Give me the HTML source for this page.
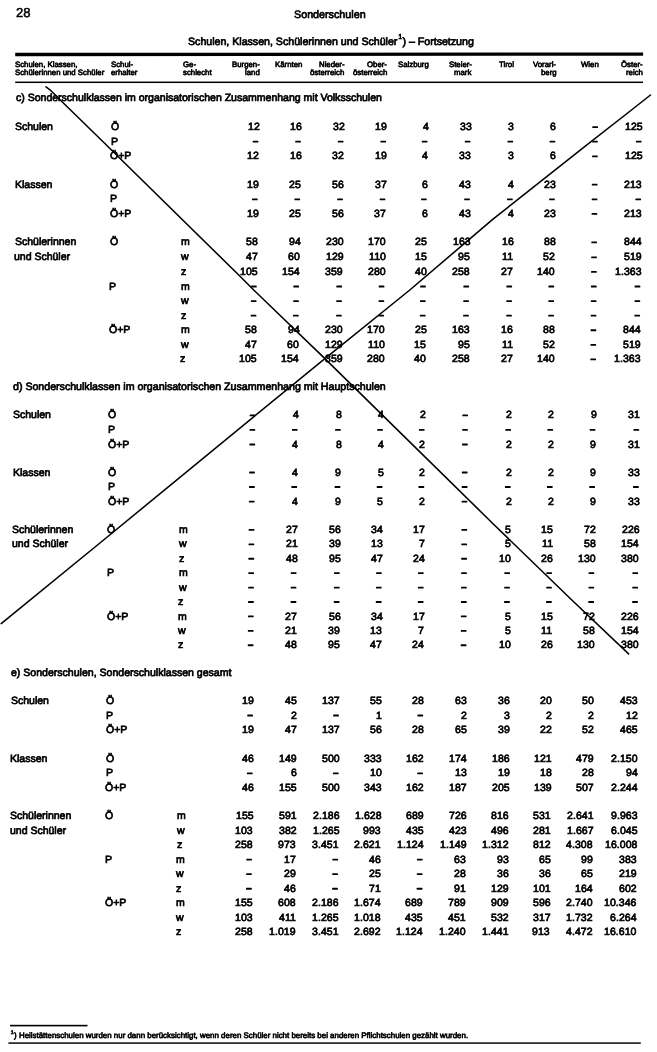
<!DOCTYPE html>
<html><head><meta charset="utf-8"><title>Sonderschulen</title>
<style>
html,body{margin:0;padding:0;background:#fff;}
body{filter:grayscale(1);}
body{width:657px;height:1052px;position:relative;overflow:hidden;font-family:"Liberation Sans",sans-serif;color:#000;}
div{position:absolute;white-space:nowrap;-webkit-text-stroke:0.7px #000;transform:skewX(-0.46deg);}
.h{-webkit-text-stroke:0.62px #000;}
.sup{font-size:66%;position:relative;top:-0.8em;margin:0 0.4px 0 0.8px;}
svg{position:absolute;left:0;top:0;}
</style></head><body>
<div style="left:16.19px;top:4px;font-size:13.0px;line-height:17px;-webkit-text-stroke:0.5px #000;transform-origin:0 13px;">28</div>
<div style="left:294.49px;top:7px;font-size:10.74px;line-height:14px;transform-origin:0 11px;">Sonderschulen</div>
<div style="left:188.06px;top:34px;font-size:10.62px;line-height:14px;transform-origin:0 11px;">Schulen, Klassen, Schülerinnen und Schüler<span class="sup">1</span>) – Fortsetzung</div>
<div class="h" style="left:15.36px;top:59px;font-size:7.8px;line-height:11px;transform-origin:0 8px;">Schulen, Klassen,</div>
<div class="h" style="left:15.30px;top:67px;font-size:7.8px;line-height:11px;transform-origin:0 8px;">Schülerinnen und Schüler</div>
<div class="h" style="left:110.76px;top:59px;font-size:7.8px;line-height:11px;transform-origin:0 8px;">Schul-</div>
<div class="h" style="left:110.70px;top:67px;font-size:7.8px;line-height:11px;transform-origin:0 8px;">erhalter</div>
<div class="h" style="left:182.56px;top:59px;font-size:7.8px;line-height:11px;transform-origin:0 8px;">Ge-</div>
<div class="h" style="left:182.50px;top:67px;font-size:7.8px;line-height:11px;transform-origin:0 8px;">schlecht</div>
<div class="h" style="right:397.38px;top:59px;font-size:7.8px;line-height:11px;transform-origin:100% 8px;">Burgen-</div>
<div class="h" style="right:397.45px;top:67px;font-size:7.8px;line-height:11px;transform-origin:100% 8px;">land</div>
<div class="h" style="right:354.85px;top:59px;font-size:7.8px;line-height:11px;transform-origin:100% 8px;">Kärnten</div>
<div class="h" style="right:312.31px;top:59px;font-size:7.8px;line-height:11px;transform-origin:100% 8px;">Nieder-</div>
<div class="h" style="right:312.38px;top:67px;font-size:7.8px;line-height:11px;transform-origin:100% 8px;">österreich</div>
<div class="h" style="right:269.68px;top:59px;font-size:7.8px;line-height:11px;transform-origin:100% 8px;">Ober-</div>
<div class="h" style="right:269.75px;top:67px;font-size:7.8px;line-height:11px;transform-origin:100% 8px;">österreich</div>
<div class="h" style="right:228.40px;top:59px;font-size:7.8px;line-height:11px;transform-origin:100% 8px;">Salzburg</div>
<div class="h" style="right:185.42px;top:59px;font-size:7.8px;line-height:11px;transform-origin:100% 8px;">Steier-</div>
<div class="h" style="right:185.48px;top:67px;font-size:7.8px;line-height:11px;transform-origin:100% 8px;">mark</div>
<div class="h" style="right:142.78px;top:59px;font-size:7.8px;line-height:11px;transform-origin:100% 8px;">Tirol</div>
<div class="h" style="right:100.66px;top:59px;font-size:7.8px;line-height:11px;transform-origin:100% 8px;">Vorarl-</div>
<div class="h" style="right:100.72px;top:67px;font-size:7.8px;line-height:11px;transform-origin:100% 8px;">berg</div>
<div class="h" style="right:57.97px;top:59px;font-size:7.8px;line-height:11px;transform-origin:100% 8px;">Wien</div>
<div class="h" style="right:14.32px;top:59px;font-size:7.8px;line-height:11px;transform-origin:100% 8px;">Öster-</div>
<div class="h" style="right:14.39px;top:67px;font-size:7.8px;line-height:11px;transform-origin:100% 8px;">reich</div>
<div style="left:15.69px;top:90px;font-size:10.52px;line-height:14px;transform-origin:0 11px;">c) Sonderschulklassen im organisatorischen Zusammenhang mit Volksschulen</div>
<div style="left:15.46px;top:119px;font-size:10.5px;line-height:14px;transform-origin:0 11px;">Schulen</div>
<div style="left:110.71px;top:119px;font-size:10.5px;line-height:14px;transform-origin:0 11px;">Ö</div>
<div style="right:397.56px;top:120px;font-size:10.45px;line-height:13px;letter-spacing:0.1px;transform-origin:100% 10px;">12</div>
<div style="right:355.00px;top:120px;font-size:10.45px;line-height:13px;letter-spacing:0.1px;transform-origin:100% 10px;">16</div>
<div style="right:312.42px;top:120px;font-size:10.45px;line-height:13px;letter-spacing:0.1px;transform-origin:100% 10px;">32</div>
<div style="right:269.85px;top:120px;font-size:10.45px;line-height:13px;letter-spacing:0.1px;transform-origin:100% 10px;">19</div>
<div style="right:228.46px;top:120px;font-size:10.45px;line-height:13px;letter-spacing:0.1px;transform-origin:100% 10px;">4</div>
<div style="right:185.50px;top:120px;font-size:10.45px;line-height:13px;letter-spacing:0.1px;transform-origin:100% 10px;">33</div>
<div style="right:142.84px;top:120px;font-size:10.45px;line-height:13px;letter-spacing:0.1px;transform-origin:100% 10px;">3</div>
<div style="right:100.74px;top:120px;font-size:10.45px;line-height:13px;letter-spacing:0.1px;transform-origin:100% 10px;">6</div>
<div style="right:14.42px;top:120px;font-size:10.45px;line-height:13px;letter-spacing:0.1px;transform-origin:100% 10px;">125</div>
<div style="left:110.59px;top:134px;font-size:10.5px;line-height:14px;transform-origin:0 11px;">P</div>
<div style="left:110.47px;top:148px;font-size:10.5px;line-height:14px;transform-origin:0 11px;">Ö+P</div>
<div style="right:397.92px;top:149px;font-size:10.45px;line-height:13px;letter-spacing:0.1px;transform-origin:100% 10px;">12</div>
<div style="right:355.41px;top:149px;font-size:10.45px;line-height:13px;letter-spacing:0.1px;transform-origin:100% 10px;">16</div>
<div style="right:312.74px;top:149px;font-size:10.45px;line-height:13px;letter-spacing:0.1px;transform-origin:100% 10px;">32</div>
<div style="right:270.22px;top:149px;font-size:10.45px;line-height:13px;letter-spacing:0.1px;transform-origin:100% 10px;">19</div>
<div style="right:228.82px;top:149px;font-size:10.45px;line-height:13px;letter-spacing:0.1px;transform-origin:100% 10px;">4</div>
<div style="right:185.80px;top:149px;font-size:10.45px;line-height:13px;letter-spacing:0.1px;transform-origin:100% 10px;">33</div>
<div style="right:143.05px;top:149px;font-size:10.45px;line-height:13px;letter-spacing:0.1px;transform-origin:100% 10px;">3</div>
<div style="right:100.96px;top:149px;font-size:10.45px;line-height:13px;letter-spacing:0.1px;transform-origin:100% 10px;">6</div>
<div style="right:14.67px;top:149px;font-size:10.45px;line-height:13px;letter-spacing:0.1px;transform-origin:100% 10px;">125</div>
<div style="left:15.00px;top:177px;font-size:10.5px;line-height:14px;transform-origin:0 11px;">Klassen</div>
<div style="left:110.25px;top:177px;font-size:10.5px;line-height:14px;transform-origin:0 11px;">Ö</div>
<div style="right:398.26px;top:178px;font-size:10.45px;line-height:13px;letter-spacing:0.1px;transform-origin:100% 10px;">19</div>
<div style="right:355.80px;top:178px;font-size:10.45px;line-height:13px;letter-spacing:0.1px;transform-origin:100% 10px;">25</div>
<div style="right:313.04px;top:178px;font-size:10.45px;line-height:13px;letter-spacing:0.1px;transform-origin:100% 10px;">56</div>
<div style="right:270.56px;top:178px;font-size:10.45px;line-height:13px;letter-spacing:0.1px;transform-origin:100% 10px;">37</div>
<div style="right:229.16px;top:178px;font-size:10.45px;line-height:13px;letter-spacing:0.1px;transform-origin:100% 10px;">6</div>
<div style="right:186.08px;top:178px;font-size:10.45px;line-height:13px;letter-spacing:0.1px;transform-origin:100% 10px;">43</div>
<div style="right:143.26px;top:178px;font-size:10.45px;line-height:13px;letter-spacing:0.1px;transform-origin:100% 10px;">4</div>
<div style="right:101.18px;top:178px;font-size:10.45px;line-height:13px;letter-spacing:0.1px;transform-origin:100% 10px;">23</div>
<div style="right:14.92px;top:178px;font-size:10.45px;line-height:13px;letter-spacing:0.1px;transform-origin:100% 10px;">213</div>
<div style="left:110.13px;top:191px;font-size:10.5px;line-height:14px;transform-origin:0 11px;">P</div>
<div style="left:110.01px;top:206px;font-size:10.5px;line-height:14px;transform-origin:0 11px;">Ö+P</div>
<div style="right:398.60px;top:207px;font-size:10.45px;line-height:13px;letter-spacing:0.1px;transform-origin:100% 10px;">19</div>
<div style="right:356.19px;top:207px;font-size:10.45px;line-height:13px;letter-spacing:0.1px;transform-origin:100% 10px;">25</div>
<div style="right:313.34px;top:207px;font-size:10.45px;line-height:13px;letter-spacing:0.1px;transform-origin:100% 10px;">56</div>
<div style="right:270.91px;top:207px;font-size:10.45px;line-height:13px;letter-spacing:0.1px;transform-origin:100% 10px;">37</div>
<div style="right:229.49px;top:207px;font-size:10.45px;line-height:13px;letter-spacing:0.1px;transform-origin:100% 10px;">6</div>
<div style="right:186.36px;top:207px;font-size:10.45px;line-height:13px;letter-spacing:0.1px;transform-origin:100% 10px;">43</div>
<div style="right:143.48px;top:207px;font-size:10.45px;line-height:13px;letter-spacing:0.1px;transform-origin:100% 10px;">4</div>
<div style="right:101.40px;top:207px;font-size:10.45px;line-height:13px;letter-spacing:0.1px;transform-origin:100% 10px;">23</div>
<div style="right:15.17px;top:207px;font-size:10.45px;line-height:13px;letter-spacing:0.1px;transform-origin:100% 10px;">213</div>
<div style="left:14.53px;top:234px;font-size:10.5px;line-height:14px;transform-origin:0 11px;">Schülerinnen</div>
<div style="left:109.78px;top:234px;font-size:10.5px;line-height:14px;transform-origin:0 11px;">Ö</div>
<div style="left:181.33px;top:234px;font-size:10.5px;line-height:14px;transform-origin:0 11px;">m</div>
<div style="right:398.93px;top:235px;font-size:10.45px;line-height:13px;letter-spacing:0.1px;transform-origin:100% 10px;">58</div>
<div style="right:356.55px;top:235px;font-size:10.45px;line-height:13px;letter-spacing:0.1px;transform-origin:100% 10px;">94</div>
<div style="right:313.63px;top:235px;font-size:10.45px;line-height:13px;letter-spacing:0.1px;transform-origin:100% 10px;">230</div>
<div style="right:271.24px;top:235px;font-size:10.45px;line-height:13px;letter-spacing:0.1px;transform-origin:100% 10px;">170</div>
<div style="right:229.80px;top:235px;font-size:10.45px;line-height:13px;letter-spacing:0.1px;transform-origin:100% 10px;">25</div>
<div style="right:186.63px;top:235px;font-size:10.45px;line-height:13px;letter-spacing:0.1px;transform-origin:100% 10px;">163</div>
<div style="right:143.68px;top:235px;font-size:10.45px;line-height:13px;letter-spacing:0.1px;transform-origin:100% 10px;">16</div>
<div style="right:101.62px;top:235px;font-size:10.45px;line-height:13px;letter-spacing:0.1px;transform-origin:100% 10px;">88</div>
<div style="right:15.41px;top:235px;font-size:10.45px;line-height:13px;letter-spacing:0.1px;transform-origin:100% 10px;">844</div>
<div style="left:14.41px;top:249px;font-size:10.5px;line-height:14px;transform-origin:0 11px;">und Schüler</div>
<div style="left:181.21px;top:249px;font-size:10.5px;line-height:14px;transform-origin:0 11px;">w</div>
<div style="right:399.10px;top:250px;font-size:10.45px;line-height:13px;letter-spacing:0.1px;transform-origin:100% 10px;">47</div>
<div style="right:356.73px;top:250px;font-size:10.45px;line-height:13px;letter-spacing:0.1px;transform-origin:100% 10px;">60</div>
<div style="right:313.78px;top:250px;font-size:10.45px;line-height:13px;letter-spacing:0.1px;transform-origin:100% 10px;">129</div>
<div style="right:271.41px;top:250px;font-size:10.45px;line-height:13px;letter-spacing:0.1px;transform-origin:100% 10px;">110</div>
<div style="right:229.96px;top:250px;font-size:10.45px;line-height:13px;letter-spacing:0.1px;transform-origin:100% 10px;">15</div>
<div style="right:186.77px;top:250px;font-size:10.45px;line-height:13px;letter-spacing:0.1px;transform-origin:100% 10px;">95</div>
<div style="right:143.79px;top:250px;font-size:10.45px;line-height:13px;letter-spacing:0.1px;transform-origin:100% 10px;">11</div>
<div style="right:101.73px;top:250px;font-size:10.45px;line-height:13px;letter-spacing:0.1px;transform-origin:100% 10px;">52</div>
<div style="right:15.54px;top:250px;font-size:10.45px;line-height:13px;letter-spacing:0.1px;transform-origin:100% 10px;">519</div>
<div style="left:181.10px;top:264px;font-size:10.5px;line-height:14px;transform-origin:0 11px;">z</div>
<div style="right:399.26px;top:265px;font-size:10.45px;line-height:13px;letter-spacing:0.1px;transform-origin:100% 10px;">105</div>
<div style="right:356.91px;top:265px;font-size:10.45px;line-height:13px;letter-spacing:0.1px;transform-origin:100% 10px;">154</div>
<div style="right:313.92px;top:265px;font-size:10.45px;line-height:13px;letter-spacing:0.1px;transform-origin:100% 10px;">359</div>
<div style="right:271.57px;top:265px;font-size:10.45px;line-height:13px;letter-spacing:0.1px;transform-origin:100% 10px;">280</div>
<div style="right:230.11px;top:265px;font-size:10.45px;line-height:13px;letter-spacing:0.1px;transform-origin:100% 10px;">40</div>
<div style="right:186.90px;top:265px;font-size:10.45px;line-height:13px;letter-spacing:0.1px;transform-origin:100% 10px;">258</div>
<div style="right:143.90px;top:265px;font-size:10.45px;line-height:13px;letter-spacing:0.1px;transform-origin:100% 10px;">27</div>
<div style="right:101.84px;top:265px;font-size:10.45px;line-height:13px;letter-spacing:0.1px;transform-origin:100% 10px;">140</div>
<div style="right:15.66px;top:265px;font-size:10.45px;line-height:13px;letter-spacing:0.1px;transform-origin:100% 10px;">1.363</div>
<div style="left:109.43px;top:279px;font-size:10.5px;line-height:14px;transform-origin:0 11px;">P</div>
<div style="left:180.98px;top:279px;font-size:10.5px;line-height:14px;transform-origin:0 11px;">m</div>
<div style="left:180.86px;top:293px;font-size:10.5px;line-height:14px;transform-origin:0 11px;">w</div>
<div style="left:180.75px;top:308px;font-size:10.5px;line-height:14px;transform-origin:0 11px;">z</div>
<div style="left:109.08px;top:322px;font-size:10.5px;line-height:14px;transform-origin:0 11px;">Ö+P</div>
<div style="left:180.63px;top:322px;font-size:10.5px;line-height:14px;transform-origin:0 11px;">m</div>
<div style="right:399.88px;top:323px;font-size:10.45px;line-height:13px;letter-spacing:0.1px;transform-origin:100% 10px;">58</div>
<div style="right:357.56px;top:323px;font-size:10.45px;line-height:13px;letter-spacing:0.1px;transform-origin:100% 10px;">94</div>
<div style="right:314.47px;top:323px;font-size:10.45px;line-height:13px;letter-spacing:0.1px;transform-origin:100% 10px;">230</div>
<div style="right:272.19px;top:323px;font-size:10.45px;line-height:13px;letter-spacing:0.1px;transform-origin:100% 10px;">170</div>
<div style="right:230.68px;top:323px;font-size:10.45px;line-height:13px;letter-spacing:0.1px;transform-origin:100% 10px;">25</div>
<div style="right:187.41px;top:323px;font-size:10.45px;line-height:13px;letter-spacing:0.1px;transform-origin:100% 10px;">163</div>
<div style="right:144.32px;top:323px;font-size:10.45px;line-height:13px;letter-spacing:0.1px;transform-origin:100% 10px;">16</div>
<div style="right:102.29px;top:323px;font-size:10.45px;line-height:13px;letter-spacing:0.1px;transform-origin:100% 10px;">88</div>
<div style="right:16.15px;top:323px;font-size:10.45px;line-height:13px;letter-spacing:0.1px;transform-origin:100% 10px;">844</div>
<div style="left:180.51px;top:337px;font-size:10.5px;line-height:14px;transform-origin:0 11px;">w</div>
<div style="right:400.03px;top:338px;font-size:10.45px;line-height:13px;letter-spacing:0.1px;transform-origin:100% 10px;">47</div>
<div style="right:357.72px;top:338px;font-size:10.45px;line-height:13px;letter-spacing:0.1px;transform-origin:100% 10px;">60</div>
<div style="right:314.60px;top:338px;font-size:10.45px;line-height:13px;letter-spacing:0.1px;transform-origin:100% 10px;">129</div>
<div style="right:272.34px;top:338px;font-size:10.45px;line-height:13px;letter-spacing:0.1px;transform-origin:100% 10px;">110</div>
<div style="right:230.81px;top:338px;font-size:10.45px;line-height:13px;letter-spacing:0.1px;transform-origin:100% 10px;">15</div>
<div style="right:187.54px;top:338px;font-size:10.45px;line-height:13px;letter-spacing:0.1px;transform-origin:100% 10px;">95</div>
<div style="right:144.43px;top:338px;font-size:10.45px;line-height:13px;letter-spacing:0.1px;transform-origin:100% 10px;">11</div>
<div style="right:102.40px;top:338px;font-size:10.45px;line-height:13px;letter-spacing:0.1px;transform-origin:100% 10px;">52</div>
<div style="right:16.26px;top:338px;font-size:10.45px;line-height:13px;letter-spacing:0.1px;transform-origin:100% 10px;">519</div>
<div style="left:180.40px;top:351px;font-size:10.5px;line-height:14px;transform-origin:0 11px;">z</div>
<div style="right:400.18px;top:352px;font-size:10.45px;line-height:13px;letter-spacing:0.1px;transform-origin:100% 10px;">105</div>
<div style="right:357.87px;top:352px;font-size:10.45px;line-height:13px;letter-spacing:0.1px;transform-origin:100% 10px;">154</div>
<div style="right:314.73px;top:352px;font-size:10.45px;line-height:13px;letter-spacing:0.1px;transform-origin:100% 10px;">359</div>
<div style="right:272.49px;top:352px;font-size:10.45px;line-height:13px;letter-spacing:0.1px;transform-origin:100% 10px;">280</div>
<div style="right:230.94px;top:352px;font-size:10.45px;line-height:13px;letter-spacing:0.1px;transform-origin:100% 10px;">40</div>
<div style="right:187.66px;top:352px;font-size:10.45px;line-height:13px;letter-spacing:0.1px;transform-origin:100% 10px;">258</div>
<div style="right:144.54px;top:352px;font-size:10.45px;line-height:13px;letter-spacing:0.1px;transform-origin:100% 10px;">27</div>
<div style="right:102.51px;top:352px;font-size:10.45px;line-height:13px;letter-spacing:0.1px;transform-origin:100% 10px;">140</div>
<div style="right:16.38px;top:352px;font-size:10.45px;line-height:13px;letter-spacing:0.1px;transform-origin:100% 10px;">1.363</div>
<div style="left:13.38px;top:379px;font-size:10.62px;line-height:14px;transform-origin:0 11px;">d) Sonderschulklassen im organisatorischen Zusammenhang mit Hauptschulen</div>
<div style="left:13.15px;top:407px;font-size:10.5px;line-height:14px;transform-origin:0 11px;">Schulen</div>
<div style="left:108.40px;top:407px;font-size:10.5px;line-height:14px;transform-origin:0 11px;">Ö</div>
<div style="right:358.41px;top:408px;font-size:10.45px;line-height:13px;letter-spacing:0.1px;transform-origin:100% 10px;">4</div>
<div style="right:315.21px;top:408px;font-size:10.45px;line-height:13px;letter-spacing:0.1px;transform-origin:100% 10px;">8</div>
<div style="right:273.03px;top:408px;font-size:10.45px;line-height:13px;letter-spacing:0.1px;transform-origin:100% 10px;">4</div>
<div style="right:231.40px;top:408px;font-size:10.45px;line-height:13px;letter-spacing:0.1px;transform-origin:100% 10px;">2</div>
<div style="right:144.95px;top:408px;font-size:10.45px;line-height:13px;letter-spacing:0.1px;transform-origin:100% 10px;">2</div>
<div style="right:102.93px;top:408px;font-size:10.45px;line-height:13px;letter-spacing:0.1px;transform-origin:100% 10px;">2</div>
<div style="right:60.56px;top:408px;font-size:10.45px;line-height:13px;letter-spacing:0.1px;transform-origin:100% 10px;">9</div>
<div style="right:16.83px;top:408px;font-size:10.45px;line-height:13px;letter-spacing:0.1px;transform-origin:100% 10px;">31</div>
<div style="left:108.28px;top:422px;font-size:10.5px;line-height:14px;transform-origin:0 11px;">P</div>
<div style="left:108.17px;top:437px;font-size:10.5px;line-height:14px;transform-origin:0 11px;">Ö+P</div>
<div style="right:358.67px;top:438px;font-size:10.45px;line-height:13px;letter-spacing:0.1px;transform-origin:100% 10px;">4</div>
<div style="right:315.44px;top:438px;font-size:10.45px;line-height:13px;letter-spacing:0.1px;transform-origin:100% 10px;">8</div>
<div style="right:273.29px;top:438px;font-size:10.45px;line-height:13px;letter-spacing:0.1px;transform-origin:100% 10px;">4</div>
<div style="right:231.63px;top:438px;font-size:10.45px;line-height:13px;letter-spacing:0.1px;transform-origin:100% 10px;">2</div>
<div style="right:145.16px;top:438px;font-size:10.45px;line-height:13px;letter-spacing:0.1px;transform-origin:100% 10px;">2</div>
<div style="right:103.15px;top:438px;font-size:10.45px;line-height:13px;letter-spacing:0.1px;transform-origin:100% 10px;">2</div>
<div style="right:60.80px;top:438px;font-size:10.45px;line-height:13px;letter-spacing:0.1px;transform-origin:100% 10px;">9</div>
<div style="right:17.06px;top:438px;font-size:10.45px;line-height:13px;letter-spacing:0.1px;transform-origin:100% 10px;">31</div>
<div style="left:12.69px;top:465px;font-size:10.5px;line-height:14px;transform-origin:0 11px;">Klassen</div>
<div style="left:107.94px;top:465px;font-size:10.5px;line-height:14px;transform-origin:0 11px;">Ö</div>
<div style="right:358.91px;top:466px;font-size:10.45px;line-height:13px;letter-spacing:0.1px;transform-origin:100% 10px;">4</div>
<div style="right:315.66px;top:466px;font-size:10.45px;line-height:13px;letter-spacing:0.1px;transform-origin:100% 10px;">9</div>
<div style="right:273.54px;top:466px;font-size:10.45px;line-height:13px;letter-spacing:0.1px;transform-origin:100% 10px;">5</div>
<div style="right:231.82px;top:466px;font-size:10.45px;line-height:13px;letter-spacing:0.1px;transform-origin:100% 10px;">2</div>
<div style="right:145.36px;top:466px;font-size:10.45px;line-height:13px;letter-spacing:0.1px;transform-origin:100% 10px;">2</div>
<div style="right:103.37px;top:466px;font-size:10.45px;line-height:13px;letter-spacing:0.1px;transform-origin:100% 10px;">2</div>
<div style="right:61.03px;top:466px;font-size:10.45px;line-height:13px;letter-spacing:0.1px;transform-origin:100% 10px;">9</div>
<div style="right:17.27px;top:466px;font-size:10.45px;line-height:13px;letter-spacing:0.1px;transform-origin:100% 10px;">33</div>
<div style="left:107.83px;top:479px;font-size:10.5px;line-height:14px;transform-origin:0 11px;">P</div>
<div style="left:107.71px;top:494px;font-size:10.5px;line-height:14px;transform-origin:0 11px;">Ö+P</div>
<div style="right:359.14px;top:495px;font-size:10.45px;line-height:13px;letter-spacing:0.1px;transform-origin:100% 10px;">4</div>
<div style="right:315.88px;top:495px;font-size:10.45px;line-height:13px;letter-spacing:0.1px;transform-origin:100% 10px;">9</div>
<div style="right:273.79px;top:495px;font-size:10.45px;line-height:13px;letter-spacing:0.1px;transform-origin:100% 10px;">5</div>
<div style="right:232.02px;top:495px;font-size:10.45px;line-height:13px;letter-spacing:0.1px;transform-origin:100% 10px;">2</div>
<div style="right:145.58px;top:495px;font-size:10.45px;line-height:13px;letter-spacing:0.1px;transform-origin:100% 10px;">2</div>
<div style="right:103.59px;top:495px;font-size:10.45px;line-height:13px;letter-spacing:0.1px;transform-origin:100% 10px;">2</div>
<div style="right:61.26px;top:495px;font-size:10.45px;line-height:13px;letter-spacing:0.1px;transform-origin:100% 10px;">9</div>
<div style="right:17.49px;top:495px;font-size:10.45px;line-height:13px;letter-spacing:0.1px;transform-origin:100% 10px;">33</div>
<div style="left:12.23px;top:522px;font-size:10.5px;line-height:14px;transform-origin:0 11px;">Schülerinnen</div>
<div style="left:107.48px;top:522px;font-size:10.5px;line-height:14px;transform-origin:0 11px;">Ö</div>
<div style="left:179.03px;top:522px;font-size:10.5px;line-height:14px;transform-origin:0 11px;">m</div>
<div style="right:359.34px;top:523px;font-size:10.45px;line-height:13px;letter-spacing:0.1px;transform-origin:100% 10px;">27</div>
<div style="right:316.09px;top:523px;font-size:10.45px;line-height:13px;letter-spacing:0.1px;transform-origin:100% 10px;">56</div>
<div style="right:274.02px;top:523px;font-size:10.45px;line-height:13px;letter-spacing:0.1px;transform-origin:100% 10px;">34</div>
<div style="right:232.19px;top:523px;font-size:10.45px;line-height:13px;letter-spacing:0.1px;transform-origin:100% 10px;">17</div>
<div style="right:145.78px;top:523px;font-size:10.45px;line-height:13px;letter-spacing:0.1px;transform-origin:100% 10px;">5</div>
<div style="right:103.80px;top:523px;font-size:10.45px;line-height:13px;letter-spacing:0.1px;transform-origin:100% 10px;">15</div>
<div style="right:61.49px;top:523px;font-size:10.45px;line-height:13px;letter-spacing:0.1px;transform-origin:100% 10px;">72</div>
<div style="right:17.71px;top:523px;font-size:10.45px;line-height:13px;letter-spacing:0.1px;transform-origin:100% 10px;">226</div>
<div style="left:12.12px;top:536px;font-size:10.5px;line-height:14px;transform-origin:0 11px;">und Schüler</div>
<div style="left:178.92px;top:536px;font-size:10.5px;line-height:14px;transform-origin:0 11px;">w</div>
<div style="right:359.44px;top:537px;font-size:10.45px;line-height:13px;letter-spacing:0.1px;transform-origin:100% 10px;">21</div>
<div style="right:316.19px;top:537px;font-size:10.45px;line-height:13px;letter-spacing:0.1px;transform-origin:100% 10px;">39</div>
<div style="right:274.13px;top:537px;font-size:10.45px;line-height:13px;letter-spacing:0.1px;transform-origin:100% 10px;">13</div>
<div style="right:232.27px;top:537px;font-size:10.45px;line-height:13px;letter-spacing:0.1px;transform-origin:100% 10px;">7</div>
<div style="right:145.89px;top:537px;font-size:10.45px;line-height:13px;letter-spacing:0.1px;transform-origin:100% 10px;">5</div>
<div style="right:103.91px;top:537px;font-size:10.45px;line-height:13px;letter-spacing:0.1px;transform-origin:100% 10px;">11</div>
<div style="right:61.61px;top:537px;font-size:10.45px;line-height:13px;letter-spacing:0.1px;transform-origin:100% 10px;">58</div>
<div style="right:17.82px;top:537px;font-size:10.45px;line-height:13px;letter-spacing:0.1px;transform-origin:100% 10px;">154</div>
<div style="left:178.80px;top:551px;font-size:10.5px;line-height:14px;transform-origin:0 11px;">z</div>
<div style="right:359.54px;top:552px;font-size:10.45px;line-height:13px;letter-spacing:0.1px;transform-origin:100% 10px;">48</div>
<div style="right:316.29px;top:552px;font-size:10.45px;line-height:13px;letter-spacing:0.1px;transform-origin:100% 10px;">95</div>
<div style="right:274.24px;top:552px;font-size:10.45px;line-height:13px;letter-spacing:0.1px;transform-origin:100% 10px;">47</div>
<div style="right:232.35px;top:552px;font-size:10.45px;line-height:13px;letter-spacing:0.1px;transform-origin:100% 10px;">24</div>
<div style="right:145.99px;top:552px;font-size:10.45px;line-height:13px;letter-spacing:0.1px;transform-origin:100% 10px;">10</div>
<div style="right:104.02px;top:552px;font-size:10.45px;line-height:13px;letter-spacing:0.1px;transform-origin:100% 10px;">26</div>
<div style="right:61.73px;top:552px;font-size:10.45px;line-height:13px;letter-spacing:0.1px;transform-origin:100% 10px;">130</div>
<div style="right:17.92px;top:552px;font-size:10.45px;line-height:13px;letter-spacing:0.1px;transform-origin:100% 10px;">380</div>
<div style="left:107.14px;top:565px;font-size:10.5px;line-height:14px;transform-origin:0 11px;">P</div>
<div style="left:178.69px;top:565px;font-size:10.5px;line-height:14px;transform-origin:0 11px;">m</div>
<div style="left:178.57px;top:580px;font-size:10.5px;line-height:14px;transform-origin:0 11px;">w</div>
<div style="left:178.46px;top:594px;font-size:10.5px;line-height:14px;transform-origin:0 11px;">z</div>
<div style="left:106.79px;top:609px;font-size:10.5px;line-height:14px;transform-origin:0 11px;">Ö+P</div>
<div style="left:178.34px;top:609px;font-size:10.5px;line-height:14px;transform-origin:0 11px;">m</div>
<div style="right:359.89px;top:610px;font-size:10.45px;line-height:13px;letter-spacing:0.1px;transform-origin:100% 10px;">27</div>
<div style="right:316.66px;top:610px;font-size:10.45px;line-height:13px;letter-spacing:0.1px;transform-origin:100% 10px;">56</div>
<div style="right:274.67px;top:610px;font-size:10.45px;line-height:13px;letter-spacing:0.1px;transform-origin:100% 10px;">34</div>
<div style="right:232.63px;top:610px;font-size:10.45px;line-height:13px;letter-spacing:0.1px;transform-origin:100% 10px;">17</div>
<div style="right:146.41px;top:610px;font-size:10.45px;line-height:13px;letter-spacing:0.1px;transform-origin:100% 10px;">5</div>
<div style="right:104.46px;top:610px;font-size:10.45px;line-height:13px;letter-spacing:0.1px;transform-origin:100% 10px;">15</div>
<div style="right:62.19px;top:610px;font-size:10.45px;line-height:13px;letter-spacing:0.1px;transform-origin:100% 10px;">72</div>
<div style="right:18.34px;top:610px;font-size:10.45px;line-height:13px;letter-spacing:0.1px;transform-origin:100% 10px;">226</div>
<div style="left:178.23px;top:623px;font-size:10.5px;line-height:14px;transform-origin:0 11px;">w</div>
<div style="right:359.96px;top:624px;font-size:10.45px;line-height:13px;letter-spacing:0.1px;transform-origin:100% 10px;">21</div>
<div style="right:316.75px;top:624px;font-size:10.45px;line-height:13px;letter-spacing:0.1px;transform-origin:100% 10px;">39</div>
<div style="right:274.76px;top:624px;font-size:10.45px;line-height:13px;letter-spacing:0.1px;transform-origin:100% 10px;">13</div>
<div style="right:232.69px;top:624px;font-size:10.45px;line-height:13px;letter-spacing:0.1px;transform-origin:100% 10px;">7</div>
<div style="right:146.52px;top:624px;font-size:10.45px;line-height:13px;letter-spacing:0.1px;transform-origin:100% 10px;">5</div>
<div style="right:104.57px;top:624px;font-size:10.45px;line-height:13px;letter-spacing:0.1px;transform-origin:100% 10px;">11</div>
<div style="right:62.30px;top:624px;font-size:10.45px;line-height:13px;letter-spacing:0.1px;transform-origin:100% 10px;">58</div>
<div style="right:18.45px;top:624px;font-size:10.45px;line-height:13px;letter-spacing:0.1px;transform-origin:100% 10px;">154</div>
<div style="left:178.11px;top:637px;font-size:10.5px;line-height:14px;transform-origin:0 11px;">z</div>
<div style="right:360.04px;top:638px;font-size:10.45px;line-height:13px;letter-spacing:0.1px;transform-origin:100% 10px;">48</div>
<div style="right:316.84px;top:638px;font-size:10.45px;line-height:13px;letter-spacing:0.1px;transform-origin:100% 10px;">95</div>
<div style="right:274.86px;top:638px;font-size:10.45px;line-height:13px;letter-spacing:0.1px;transform-origin:100% 10px;">47</div>
<div style="right:232.75px;top:638px;font-size:10.45px;line-height:13px;letter-spacing:0.1px;transform-origin:100% 10px;">24</div>
<div style="right:146.62px;top:638px;font-size:10.45px;line-height:13px;letter-spacing:0.1px;transform-origin:100% 10px;">10</div>
<div style="right:104.68px;top:638px;font-size:10.45px;line-height:13px;letter-spacing:0.1px;transform-origin:100% 10px;">26</div>
<div style="right:62.42px;top:638px;font-size:10.45px;line-height:13px;letter-spacing:0.1px;transform-origin:100% 10px;">130</div>
<div style="right:18.55px;top:638px;font-size:10.45px;line-height:13px;letter-spacing:0.1px;transform-origin:100% 10px;">380</div>
<div style="left:11.09px;top:665px;font-size:10.55px;line-height:14px;transform-origin:0 11px;">e) Sonderschulen, Sonderschulklassen gesamt</div>
<div style="left:10.86px;top:693px;font-size:10.5px;line-height:14px;transform-origin:0 11px;">Schulen</div>
<div style="left:106.11px;top:693px;font-size:10.5px;line-height:14px;transform-origin:0 11px;">Ö</div>
<div style="right:403.04px;top:694px;font-size:10.45px;line-height:13px;letter-spacing:0.1px;transform-origin:100% 10px;">19</div>
<div style="right:360.28px;top:694px;font-size:10.45px;line-height:13px;letter-spacing:0.1px;transform-origin:100% 10px;">45</div>
<div style="right:317.15px;top:694px;font-size:10.45px;line-height:13px;letter-spacing:0.1px;transform-origin:100% 10px;">137</div>
<div style="right:275.21px;top:694px;font-size:10.45px;line-height:13px;letter-spacing:0.1px;transform-origin:100% 10px;">55</div>
<div style="right:232.95px;top:694px;font-size:10.45px;line-height:13px;letter-spacing:0.1px;transform-origin:100% 10px;">28</div>
<div style="right:190.01px;top:694px;font-size:10.45px;line-height:13px;letter-spacing:0.1px;transform-origin:100% 10px;">63</div>
<div style="right:147.03px;top:694px;font-size:10.45px;line-height:13px;letter-spacing:0.1px;transform-origin:100% 10px;">36</div>
<div style="right:105.10px;top:694px;font-size:10.45px;line-height:13px;letter-spacing:0.1px;transform-origin:100% 10px;">20</div>
<div style="right:62.86px;top:694px;font-size:10.45px;line-height:13px;letter-spacing:0.1px;transform-origin:100% 10px;">50</div>
<div style="right:18.94px;top:694px;font-size:10.45px;line-height:13px;letter-spacing:0.1px;transform-origin:100% 10px;">453</div>
<div style="left:106.00px;top:708px;font-size:10.5px;line-height:14px;transform-origin:0 11px;">P</div>
<div style="right:360.34px;top:709px;font-size:10.45px;line-height:13px;letter-spacing:0.1px;transform-origin:100% 10px;">2</div>
<div style="right:275.30px;top:709px;font-size:10.45px;line-height:13px;letter-spacing:0.1px;transform-origin:100% 10px;">1</div>
<div style="right:190.09px;top:709px;font-size:10.45px;line-height:13px;letter-spacing:0.1px;transform-origin:100% 10px;">2</div>
<div style="right:147.14px;top:709px;font-size:10.45px;line-height:13px;letter-spacing:0.1px;transform-origin:100% 10px;">3</div>
<div style="right:105.21px;top:709px;font-size:10.45px;line-height:13px;letter-spacing:0.1px;transform-origin:100% 10px;">2</div>
<div style="right:62.97px;top:709px;font-size:10.45px;line-height:13px;letter-spacing:0.1px;transform-origin:100% 10px;">2</div>
<div style="right:19.04px;top:709px;font-size:10.45px;line-height:13px;letter-spacing:0.1px;transform-origin:100% 10px;">12</div>
<div style="left:105.88px;top:722px;font-size:10.5px;line-height:14px;transform-origin:0 11px;">Ö+P</div>
<div style="right:403.23px;top:723px;font-size:10.45px;line-height:13px;letter-spacing:0.1px;transform-origin:100% 10px;">19</div>
<div style="right:360.39px;top:723px;font-size:10.45px;line-height:13px;letter-spacing:0.1px;transform-origin:100% 10px;">47</div>
<div style="right:317.30px;top:723px;font-size:10.45px;line-height:13px;letter-spacing:0.1px;transform-origin:100% 10px;">137</div>
<div style="right:275.38px;top:723px;font-size:10.45px;line-height:13px;letter-spacing:0.1px;transform-origin:100% 10px;">56</div>
<div style="right:233.03px;top:723px;font-size:10.45px;line-height:13px;letter-spacing:0.1px;transform-origin:100% 10px;">28</div>
<div style="right:190.17px;top:723px;font-size:10.45px;line-height:13px;letter-spacing:0.1px;transform-origin:100% 10px;">65</div>
<div style="right:147.24px;top:723px;font-size:10.45px;line-height:13px;letter-spacing:0.1px;transform-origin:100% 10px;">39</div>
<div style="right:105.33px;top:723px;font-size:10.45px;line-height:13px;letter-spacing:0.1px;transform-origin:100% 10px;">22</div>
<div style="right:63.08px;top:723px;font-size:10.45px;line-height:13px;letter-spacing:0.1px;transform-origin:100% 10px;">52</div>
<div style="right:19.14px;top:723px;font-size:10.45px;line-height:13px;letter-spacing:0.1px;transform-origin:100% 10px;">465</div>
<div style="left:10.40px;top:751px;font-size:10.5px;line-height:14px;transform-origin:0 11px;">Klassen</div>
<div style="left:105.65px;top:751px;font-size:10.5px;line-height:14px;transform-origin:0 11px;">Ö</div>
<div style="right:403.41px;top:752px;font-size:10.45px;line-height:13px;letter-spacing:0.1px;transform-origin:100% 10px;">46</div>
<div style="right:360.48px;top:752px;font-size:10.45px;line-height:13px;letter-spacing:0.1px;transform-origin:100% 10px;">149</div>
<div style="right:317.44px;top:752px;font-size:10.45px;line-height:13px;letter-spacing:0.1px;transform-origin:100% 10px;">500</div>
<div style="right:275.54px;top:752px;font-size:10.45px;line-height:13px;letter-spacing:0.1px;transform-origin:100% 10px;">333</div>
<div style="right:233.09px;top:752px;font-size:10.45px;line-height:13px;letter-spacing:0.1px;transform-origin:100% 10px;">162</div>
<div style="right:190.31px;top:752px;font-size:10.45px;line-height:13px;letter-spacing:0.1px;transform-origin:100% 10px;">174</div>
<div style="right:147.45px;top:752px;font-size:10.45px;line-height:13px;letter-spacing:0.1px;transform-origin:100% 10px;">186</div>
<div style="right:105.54px;top:752px;font-size:10.45px;line-height:13px;letter-spacing:0.1px;transform-origin:100% 10px;">121</div>
<div style="right:63.30px;top:752px;font-size:10.45px;line-height:13px;letter-spacing:0.1px;transform-origin:100% 10px;">479</div>
<div style="right:19.34px;top:752px;font-size:10.45px;line-height:13px;letter-spacing:0.1px;transform-origin:100% 10px;">2.150</div>
<div style="left:105.54px;top:765px;font-size:10.5px;line-height:14px;transform-origin:0 11px;">P</div>
<div style="right:360.52px;top:766px;font-size:10.45px;line-height:13px;letter-spacing:0.1px;transform-origin:100% 10px;">6</div>
<div style="right:275.61px;top:766px;font-size:10.45px;line-height:13px;letter-spacing:0.1px;transform-origin:100% 10px;">10</div>
<div style="right:190.38px;top:766px;font-size:10.45px;line-height:13px;letter-spacing:0.1px;transform-origin:100% 10px;">13</div>
<div style="right:147.56px;top:766px;font-size:10.45px;line-height:13px;letter-spacing:0.1px;transform-origin:100% 10px;">19</div>
<div style="right:105.65px;top:766px;font-size:10.45px;line-height:13px;letter-spacing:0.1px;transform-origin:100% 10px;">18</div>
<div style="right:63.42px;top:766px;font-size:10.45px;line-height:13px;letter-spacing:0.1px;transform-origin:100% 10px;">28</div>
<div style="right:19.43px;top:766px;font-size:10.45px;line-height:13px;letter-spacing:0.1px;transform-origin:100% 10px;">94</div>
<div style="left:105.42px;top:780px;font-size:10.5px;line-height:14px;transform-origin:0 11px;">Ö+P</div>
<div style="right:403.58px;top:781px;font-size:10.45px;line-height:13px;letter-spacing:0.1px;transform-origin:100% 10px;">46</div>
<div style="right:360.55px;top:781px;font-size:10.45px;line-height:13px;letter-spacing:0.1px;transform-origin:100% 10px;">155</div>
<div style="right:317.58px;top:781px;font-size:10.45px;line-height:13px;letter-spacing:0.1px;transform-origin:100% 10px;">500</div>
<div style="right:275.69px;top:781px;font-size:10.45px;line-height:13px;letter-spacing:0.1px;transform-origin:100% 10px;">343</div>
<div style="right:233.14px;top:781px;font-size:10.45px;line-height:13px;letter-spacing:0.1px;transform-origin:100% 10px;">162</div>
<div style="right:190.45px;top:781px;font-size:10.45px;line-height:13px;letter-spacing:0.1px;transform-origin:100% 10px;">187</div>
<div style="right:147.67px;top:781px;font-size:10.45px;line-height:13px;letter-spacing:0.1px;transform-origin:100% 10px;">205</div>
<div style="right:105.77px;top:781px;font-size:10.45px;line-height:13px;letter-spacing:0.1px;transform-origin:100% 10px;">139</div>
<div style="right:63.53px;top:781px;font-size:10.45px;line-height:13px;letter-spacing:0.1px;transform-origin:100% 10px;">507</div>
<div style="right:19.53px;top:781px;font-size:10.45px;line-height:13px;letter-spacing:0.1px;transform-origin:100% 10px;">2.244</div>
<div style="left:9.94px;top:808px;font-size:10.5px;line-height:14px;transform-origin:0 11px;">Schülerinnen</div>
<div style="left:105.19px;top:808px;font-size:10.5px;line-height:14px;transform-origin:0 11px;">Ö</div>
<div style="left:176.74px;top:808px;font-size:10.5px;line-height:14px;transform-origin:0 11px;">m</div>
<div style="right:403.75px;top:809px;font-size:10.45px;line-height:13px;letter-spacing:0.1px;transform-origin:100% 10px;">155</div>
<div style="right:360.62px;top:809px;font-size:10.45px;line-height:13px;letter-spacing:0.1px;transform-origin:100% 10px;">591</div>
<div style="right:317.71px;top:809px;font-size:10.45px;line-height:13px;letter-spacing:0.1px;transform-origin:100% 10px;">2.186</div>
<div style="right:275.83px;top:809px;font-size:10.45px;line-height:13px;letter-spacing:0.1px;transform-origin:100% 10px;">1.628</div>
<div style="right:233.19px;top:809px;font-size:10.45px;line-height:13px;letter-spacing:0.1px;transform-origin:100% 10px;">689</div>
<div style="right:190.59px;top:809px;font-size:10.45px;line-height:13px;letter-spacing:0.1px;transform-origin:100% 10px;">726</div>
<div style="right:147.87px;top:809px;font-size:10.45px;line-height:13px;letter-spacing:0.1px;transform-origin:100% 10px;">816</div>
<div style="right:105.98px;top:809px;font-size:10.45px;line-height:13px;letter-spacing:0.1px;transform-origin:100% 10px;">531</div>
<div style="right:63.74px;top:809px;font-size:10.45px;line-height:13px;letter-spacing:0.1px;transform-origin:100% 10px;">2.641</div>
<div style="right:19.72px;top:809px;font-size:10.45px;line-height:13px;letter-spacing:0.1px;transform-origin:100% 10px;">9.963</div>
<div style="left:9.83px;top:823px;font-size:10.5px;line-height:14px;transform-origin:0 11px;">und Schüler</div>
<div style="left:176.63px;top:823px;font-size:10.5px;line-height:14px;transform-origin:0 11px;">w</div>
<div style="right:403.88px;top:824px;font-size:10.45px;line-height:13px;letter-spacing:0.1px;transform-origin:100% 10px;">103</div>
<div style="right:360.74px;top:824px;font-size:10.45px;line-height:13px;letter-spacing:0.1px;transform-origin:100% 10px;">382</div>
<div style="right:317.82px;top:824px;font-size:10.45px;line-height:13px;letter-spacing:0.1px;transform-origin:100% 10px;">1.265</div>
<div style="right:275.96px;top:824px;font-size:10.45px;line-height:13px;letter-spacing:0.1px;transform-origin:100% 10px;">993</div>
<div style="right:233.29px;top:824px;font-size:10.45px;line-height:13px;letter-spacing:0.1px;transform-origin:100% 10px;">435</div>
<div style="right:190.70px;top:824px;font-size:10.45px;line-height:13px;letter-spacing:0.1px;transform-origin:100% 10px;">423</div>
<div style="right:147.98px;top:824px;font-size:10.45px;line-height:13px;letter-spacing:0.1px;transform-origin:100% 10px;">496</div>
<div style="right:106.09px;top:824px;font-size:10.45px;line-height:13px;letter-spacing:0.1px;transform-origin:100% 10px;">281</div>
<div style="right:63.86px;top:824px;font-size:10.45px;line-height:13px;letter-spacing:0.1px;transform-origin:100% 10px;">1.667</div>
<div style="right:19.83px;top:824px;font-size:10.45px;line-height:13px;letter-spacing:0.1px;transform-origin:100% 10px;">6.045</div>
<div style="left:176.51px;top:837px;font-size:10.5px;line-height:14px;transform-origin:0 11px;">z</div>
<div style="right:404.01px;top:838px;font-size:10.45px;line-height:13px;letter-spacing:0.1px;transform-origin:100% 10px;">258</div>
<div style="right:360.86px;top:838px;font-size:10.45px;line-height:13px;letter-spacing:0.1px;transform-origin:100% 10px;">973</div>
<div style="right:317.93px;top:838px;font-size:10.45px;line-height:13px;letter-spacing:0.1px;transform-origin:100% 10px;">3.451</div>
<div style="right:276.08px;top:838px;font-size:10.45px;line-height:13px;letter-spacing:0.1px;transform-origin:100% 10px;">2.621</div>
<div style="right:233.39px;top:838px;font-size:10.45px;line-height:13px;letter-spacing:0.1px;transform-origin:100% 10px;">1.124</div>
<div style="right:190.81px;top:838px;font-size:10.45px;line-height:13px;letter-spacing:0.1px;transform-origin:100% 10px;">1.149</div>
<div style="right:148.08px;top:838px;font-size:10.45px;line-height:13px;letter-spacing:0.1px;transform-origin:100% 10px;">1.312</div>
<div style="right:106.20px;top:838px;font-size:10.45px;line-height:13px;letter-spacing:0.1px;transform-origin:100% 10px;">812</div>
<div style="right:63.98px;top:838px;font-size:10.45px;line-height:13px;letter-spacing:0.1px;transform-origin:100% 10px;">4.308</div>
<div style="right:19.94px;top:838px;font-size:10.45px;line-height:13px;letter-spacing:0.1px;transform-origin:100% 10px;">16.008</div>
<div style="left:104.85px;top:852px;font-size:10.5px;line-height:14px;transform-origin:0 11px;">P</div>
<div style="left:176.40px;top:852px;font-size:10.5px;line-height:14px;transform-origin:0 11px;">m</div>
<div style="right:360.98px;top:853px;font-size:10.45px;line-height:13px;letter-spacing:0.1px;transform-origin:100% 10px;">17</div>
<div style="right:276.21px;top:853px;font-size:10.45px;line-height:13px;letter-spacing:0.1px;transform-origin:100% 10px;">46</div>
<div style="right:190.91px;top:853px;font-size:10.45px;line-height:13px;letter-spacing:0.1px;transform-origin:100% 10px;">63</div>
<div style="right:148.19px;top:853px;font-size:10.45px;line-height:13px;letter-spacing:0.1px;transform-origin:100% 10px;">93</div>
<div style="right:106.31px;top:853px;font-size:10.45px;line-height:13px;letter-spacing:0.1px;transform-origin:100% 10px;">65</div>
<div style="right:64.10px;top:853px;font-size:10.45px;line-height:13px;letter-spacing:0.1px;transform-origin:100% 10px;">99</div>
<div style="right:20.05px;top:853px;font-size:10.45px;line-height:13px;letter-spacing:0.1px;transform-origin:100% 10px;">383</div>
<div style="left:176.28px;top:866px;font-size:10.5px;line-height:14px;transform-origin:0 11px;">w</div>
<div style="right:361.10px;top:867px;font-size:10.45px;line-height:13px;letter-spacing:0.1px;transform-origin:100% 10px;">29</div>
<div style="right:276.34px;top:867px;font-size:10.45px;line-height:13px;letter-spacing:0.1px;transform-origin:100% 10px;">25</div>
<div style="right:191.02px;top:867px;font-size:10.45px;line-height:13px;letter-spacing:0.1px;transform-origin:100% 10px;">28</div>
<div style="right:148.30px;top:867px;font-size:10.45px;line-height:13px;letter-spacing:0.1px;transform-origin:100% 10px;">36</div>
<div style="right:106.42px;top:867px;font-size:10.45px;line-height:13px;letter-spacing:0.1px;transform-origin:100% 10px;">36</div>
<div style="right:64.22px;top:867px;font-size:10.45px;line-height:13px;letter-spacing:0.1px;transform-origin:100% 10px;">65</div>
<div style="right:20.17px;top:867px;font-size:10.45px;line-height:13px;letter-spacing:0.1px;transform-origin:100% 10px;">219</div>
<div style="left:176.16px;top:881px;font-size:10.5px;line-height:14px;transform-origin:0 11px;">z</div>
<div style="right:361.22px;top:882px;font-size:10.45px;line-height:13px;letter-spacing:0.1px;transform-origin:100% 10px;">46</div>
<div style="right:276.46px;top:882px;font-size:10.45px;line-height:13px;letter-spacing:0.1px;transform-origin:100% 10px;">71</div>
<div style="right:191.13px;top:882px;font-size:10.45px;line-height:13px;letter-spacing:0.1px;transform-origin:100% 10px;">91</div>
<div style="right:148.40px;top:882px;font-size:10.45px;line-height:13px;letter-spacing:0.1px;transform-origin:100% 10px;">129</div>
<div style="right:106.53px;top:882px;font-size:10.45px;line-height:13px;letter-spacing:0.1px;transform-origin:100% 10px;">101</div>
<div style="right:64.34px;top:882px;font-size:10.45px;line-height:13px;letter-spacing:0.1px;transform-origin:100% 10px;">164</div>
<div style="right:20.28px;top:882px;font-size:10.45px;line-height:13px;letter-spacing:0.1px;transform-origin:100% 10px;">602</div>
<div style="left:104.50px;top:895px;font-size:10.5px;line-height:14px;transform-origin:0 11px;">Ö+P</div>
<div style="left:176.05px;top:895px;font-size:10.5px;line-height:14px;transform-origin:0 11px;">m</div>
<div style="right:404.53px;top:896px;font-size:10.45px;line-height:13px;letter-spacing:0.1px;transform-origin:100% 10px;">155</div>
<div style="right:361.34px;top:896px;font-size:10.45px;line-height:13px;letter-spacing:0.1px;transform-origin:100% 10px;">608</div>
<div style="right:318.38px;top:896px;font-size:10.45px;line-height:13px;letter-spacing:0.1px;transform-origin:100% 10px;">2.186</div>
<div style="right:276.59px;top:896px;font-size:10.45px;line-height:13px;letter-spacing:0.1px;transform-origin:100% 10px;">1.674</div>
<div style="right:233.80px;top:896px;font-size:10.45px;line-height:13px;letter-spacing:0.1px;transform-origin:100% 10px;">689</div>
<div style="right:191.24px;top:896px;font-size:10.45px;line-height:13px;letter-spacing:0.1px;transform-origin:100% 10px;">789</div>
<div style="right:148.51px;top:896px;font-size:10.45px;line-height:13px;letter-spacing:0.1px;transform-origin:100% 10px;">909</div>
<div style="right:106.64px;top:896px;font-size:10.45px;line-height:13px;letter-spacing:0.1px;transform-origin:100% 10px;">596</div>
<div style="right:64.46px;top:896px;font-size:10.45px;line-height:13px;letter-spacing:0.1px;transform-origin:100% 10px;">2.740</div>
<div style="right:20.39px;top:896px;font-size:10.45px;line-height:13px;letter-spacing:0.1px;transform-origin:100% 10px;">10.346</div>
<div style="left:175.93px;top:910px;font-size:10.5px;line-height:14px;transform-origin:0 11px;">w</div>
<div style="right:404.66px;top:911px;font-size:10.45px;line-height:13px;letter-spacing:0.1px;transform-origin:100% 10px;">103</div>
<div style="right:361.46px;top:911px;font-size:10.45px;line-height:13px;letter-spacing:0.1px;transform-origin:100% 10px;">411</div>
<div style="right:318.49px;top:911px;font-size:10.45px;line-height:13px;letter-spacing:0.1px;transform-origin:100% 10px;">1.265</div>
<div style="right:276.72px;top:911px;font-size:10.45px;line-height:13px;letter-spacing:0.1px;transform-origin:100% 10px;">1.018</div>
<div style="right:233.90px;top:911px;font-size:10.45px;line-height:13px;letter-spacing:0.1px;transform-origin:100% 10px;">435</div>
<div style="right:191.34px;top:911px;font-size:10.45px;line-height:13px;letter-spacing:0.1px;transform-origin:100% 10px;">451</div>
<div style="right:148.61px;top:911px;font-size:10.45px;line-height:13px;letter-spacing:0.1px;transform-origin:100% 10px;">532</div>
<div style="right:106.75px;top:911px;font-size:10.45px;line-height:13px;letter-spacing:0.1px;transform-origin:100% 10px;">317</div>
<div style="right:64.58px;top:911px;font-size:10.45px;line-height:13px;letter-spacing:0.1px;transform-origin:100% 10px;">1.732</div>
<div style="right:20.50px;top:911px;font-size:10.45px;line-height:13px;letter-spacing:0.1px;transform-origin:100% 10px;">6.264</div>
<div style="left:175.81px;top:924px;font-size:10.5px;line-height:14px;transform-origin:0 11px;">z</div>
<div style="right:404.79px;top:925px;font-size:10.45px;line-height:13px;letter-spacing:0.1px;transform-origin:100% 10px;">258</div>
<div style="right:361.58px;top:925px;font-size:10.45px;line-height:13px;letter-spacing:0.1px;transform-origin:100% 10px;">1.019</div>
<div style="right:318.60px;top:925px;font-size:10.45px;line-height:13px;letter-spacing:0.1px;transform-origin:100% 10px;">3.451</div>
<div style="right:276.84px;top:925px;font-size:10.45px;line-height:13px;letter-spacing:0.1px;transform-origin:100% 10px;">2.692</div>
<div style="right:234.00px;top:925px;font-size:10.45px;line-height:13px;letter-spacing:0.1px;transform-origin:100% 10px;">1.124</div>
<div style="right:191.45px;top:925px;font-size:10.45px;line-height:13px;letter-spacing:0.1px;transform-origin:100% 10px;">1.240</div>
<div style="right:148.72px;top:925px;font-size:10.45px;line-height:13px;letter-spacing:0.1px;transform-origin:100% 10px;">1.441</div>
<div style="right:106.86px;top:925px;font-size:10.45px;line-height:13px;letter-spacing:0.1px;transform-origin:100% 10px;">913</div>
<div style="right:64.70px;top:925px;font-size:10.45px;line-height:13px;letter-spacing:0.1px;transform-origin:100% 10px;">4.472</div>
<div style="right:20.61px;top:925px;font-size:10.45px;line-height:13px;letter-spacing:0.1px;transform-origin:100% 10px;">16.610</div>
<div class="h" style="left:10.00px;top:1030px;font-size:7.92px;line-height:11px;transform-origin:0 8px;"><span class="sup">1</span>) Heilstättenschulen wurden nur dann berücksichtigt, wenn deren Schüler nicht bereits bei anderen Pflichtschulen gezählt wurden.</div>
<svg width="657" height="1052" viewBox="0 0 657 1052">
<polygon points="15.2,52.7 643.1,52.6 643.1,55.7 15.2,56.3"/>
<rect x="15.2" y="81.55" width="627.8" height="1.5"/>
<rect x="10" y="1024.8" width="77.5" height="1.6"/>
<rect x="8.4" y="1042.35" width="632.4" height="1.45"/>
<rect x="592.30" y="126.20" width="5.7" height="1.8" rx="0.5"/>
<rect x="252.66" y="140.80" width="5.7" height="1.8" rx="0.5"/>
<rect x="295.19" y="140.80" width="5.7" height="1.8" rx="0.5"/>
<rect x="337.82" y="140.80" width="5.7" height="1.8" rx="0.5"/>
<rect x="380.37" y="140.80" width="5.7" height="1.8" rx="0.5"/>
<rect x="421.76" y="140.80" width="5.7" height="1.8" rx="0.5"/>
<rect x="464.75" y="140.80" width="5.7" height="1.8" rx="0.5"/>
<rect x="507.45" y="140.80" width="5.7" height="1.8" rx="0.5"/>
<rect x="549.55" y="140.80" width="5.7" height="1.8" rx="0.5"/>
<rect x="592.18" y="140.80" width="5.7" height="1.8" rx="0.5"/>
<rect x="635.85" y="140.80" width="5.7" height="1.8" rx="0.5"/>
<rect x="592.05" y="155.40" width="5.7" height="1.8" rx="0.5"/>
<rect x="591.80" y="183.80" width="5.7" height="1.8" rx="0.5"/>
<rect x="251.97" y="198.40" width="5.7" height="1.8" rx="0.5"/>
<rect x="294.40" y="198.40" width="5.7" height="1.8" rx="0.5"/>
<rect x="337.21" y="198.40" width="5.7" height="1.8" rx="0.5"/>
<rect x="379.66" y="198.40" width="5.7" height="1.8" rx="0.5"/>
<rect x="421.07" y="198.40" width="5.7" height="1.8" rx="0.5"/>
<rect x="464.18" y="198.40" width="5.7" height="1.8" rx="0.5"/>
<rect x="507.03" y="198.40" width="5.7" height="1.8" rx="0.5"/>
<rect x="549.11" y="198.40" width="5.7" height="1.8" rx="0.5"/>
<rect x="591.67" y="198.40" width="5.7" height="1.8" rx="0.5"/>
<rect x="635.35" y="198.40" width="5.7" height="1.8" rx="0.5"/>
<rect x="591.55" y="213.00" width="5.7" height="1.8" rx="0.5"/>
<rect x="591.30" y="241.40" width="5.7" height="1.8" rx="0.5"/>
<rect x="591.17" y="256.50" width="5.7" height="1.8" rx="0.5"/>
<rect x="591.05" y="271.05" width="5.7" height="1.8" rx="0.5"/>
<rect x="250.99" y="285.60" width="5.7" height="1.8" rx="0.5"/>
<rect x="293.32" y="285.60" width="5.7" height="1.8" rx="0.5"/>
<rect x="336.34" y="285.60" width="5.7" height="1.8" rx="0.5"/>
<rect x="378.67" y="285.60" width="5.7" height="1.8" rx="0.5"/>
<rect x="420.14" y="285.60" width="5.7" height="1.8" rx="0.5"/>
<rect x="463.37" y="285.60" width="5.7" height="1.8" rx="0.5"/>
<rect x="506.39" y="285.60" width="5.7" height="1.8" rx="0.5"/>
<rect x="548.45" y="285.60" width="5.7" height="1.8" rx="0.5"/>
<rect x="590.93" y="285.60" width="5.7" height="1.8" rx="0.5"/>
<rect x="634.62" y="285.60" width="5.7" height="1.8" rx="0.5"/>
<rect x="250.83" y="300.20" width="5.7" height="1.8" rx="0.5"/>
<rect x="293.16" y="300.20" width="5.7" height="1.8" rx="0.5"/>
<rect x="336.20" y="300.20" width="5.7" height="1.8" rx="0.5"/>
<rect x="378.51" y="300.20" width="5.7" height="1.8" rx="0.5"/>
<rect x="419.99" y="300.20" width="5.7" height="1.8" rx="0.5"/>
<rect x="463.24" y="300.20" width="5.7" height="1.8" rx="0.5"/>
<rect x="506.29" y="300.20" width="5.7" height="1.8" rx="0.5"/>
<rect x="548.34" y="300.20" width="5.7" height="1.8" rx="0.5"/>
<rect x="590.80" y="300.20" width="5.7" height="1.8" rx="0.5"/>
<rect x="634.49" y="300.20" width="5.7" height="1.8" rx="0.5"/>
<rect x="250.67" y="314.80" width="5.7" height="1.8" rx="0.5"/>
<rect x="292.99" y="314.80" width="5.7" height="1.8" rx="0.5"/>
<rect x="336.06" y="314.80" width="5.7" height="1.8" rx="0.5"/>
<rect x="378.36" y="314.80" width="5.7" height="1.8" rx="0.5"/>
<rect x="419.85" y="314.80" width="5.7" height="1.8" rx="0.5"/>
<rect x="463.11" y="314.80" width="5.7" height="1.8" rx="0.5"/>
<rect x="506.18" y="314.80" width="5.7" height="1.8" rx="0.5"/>
<rect x="548.22" y="314.80" width="5.7" height="1.8" rx="0.5"/>
<rect x="590.68" y="314.80" width="5.7" height="1.8" rx="0.5"/>
<rect x="634.37" y="314.80" width="5.7" height="1.8" rx="0.5"/>
<rect x="590.56" y="329.35" width="5.7" height="1.8" rx="0.5"/>
<rect x="590.43" y="343.90" width="5.7" height="1.8" rx="0.5"/>
<rect x="590.31" y="358.50" width="5.7" height="1.8" rx="0.5"/>
<rect x="249.67" y="414.40" width="5.7" height="1.8" rx="0.5"/>
<rect x="462.29" y="414.40" width="5.7" height="1.8" rx="0.5"/>
<rect x="249.53" y="429.00" width="5.7" height="1.8" rx="0.5"/>
<rect x="291.86" y="429.00" width="5.7" height="1.8" rx="0.5"/>
<rect x="335.07" y="429.00" width="5.7" height="1.8" rx="0.5"/>
<rect x="377.24" y="429.00" width="5.7" height="1.8" rx="0.5"/>
<rect x="418.88" y="429.00" width="5.7" height="1.8" rx="0.5"/>
<rect x="462.17" y="429.00" width="5.7" height="1.8" rx="0.5"/>
<rect x="505.35" y="429.00" width="5.7" height="1.8" rx="0.5"/>
<rect x="547.36" y="429.00" width="5.7" height="1.8" rx="0.5"/>
<rect x="589.72" y="429.00" width="5.7" height="1.8" rx="0.5"/>
<rect x="633.46" y="429.00" width="5.7" height="1.8" rx="0.5"/>
<rect x="249.40" y="443.60" width="5.7" height="1.8" rx="0.5"/>
<rect x="462.06" y="443.60" width="5.7" height="1.8" rx="0.5"/>
<rect x="249.14" y="471.60" width="5.7" height="1.8" rx="0.5"/>
<rect x="461.85" y="471.60" width="5.7" height="1.8" rx="0.5"/>
<rect x="249.02" y="486.10" width="5.7" height="1.8" rx="0.5"/>
<rect x="291.38" y="486.10" width="5.7" height="1.8" rx="0.5"/>
<rect x="334.63" y="486.10" width="5.7" height="1.8" rx="0.5"/>
<rect x="376.73" y="486.10" width="5.7" height="1.8" rx="0.5"/>
<rect x="418.48" y="486.10" width="5.7" height="1.8" rx="0.5"/>
<rect x="461.75" y="486.10" width="5.7" height="1.8" rx="0.5"/>
<rect x="504.93" y="486.10" width="5.7" height="1.8" rx="0.5"/>
<rect x="546.92" y="486.10" width="5.7" height="1.8" rx="0.5"/>
<rect x="589.25" y="486.10" width="5.7" height="1.8" rx="0.5"/>
<rect x="633.02" y="486.10" width="5.7" height="1.8" rx="0.5"/>
<rect x="248.89" y="500.70" width="5.7" height="1.8" rx="0.5"/>
<rect x="461.64" y="500.70" width="5.7" height="1.8" rx="0.5"/>
<rect x="248.65" y="529.00" width="5.7" height="1.8" rx="0.5"/>
<rect x="461.44" y="529.00" width="5.7" height="1.8" rx="0.5"/>
<rect x="248.53" y="543.42" width="5.7" height="1.8" rx="0.5"/>
<rect x="461.34" y="543.42" width="5.7" height="1.8" rx="0.5"/>
<rect x="248.41" y="557.84" width="5.7" height="1.8" rx="0.5"/>
<rect x="461.25" y="557.84" width="5.7" height="1.8" rx="0.5"/>
<rect x="248.29" y="572.26" width="5.7" height="1.8" rx="0.5"/>
<rect x="290.77" y="572.26" width="5.7" height="1.8" rx="0.5"/>
<rect x="334.02" y="572.26" width="5.7" height="1.8" rx="0.5"/>
<rect x="376.05" y="572.26" width="5.7" height="1.8" rx="0.5"/>
<rect x="417.97" y="572.26" width="5.7" height="1.8" rx="0.5"/>
<rect x="461.15" y="572.26" width="5.7" height="1.8" rx="0.5"/>
<rect x="504.30" y="572.26" width="5.7" height="1.8" rx="0.5"/>
<rect x="546.27" y="572.26" width="5.7" height="1.8" rx="0.5"/>
<rect x="588.56" y="572.26" width="5.7" height="1.8" rx="0.5"/>
<rect x="632.37" y="572.26" width="5.7" height="1.8" rx="0.5"/>
<rect x="248.18" y="586.68" width="5.7" height="1.8" rx="0.5"/>
<rect x="290.68" y="586.68" width="5.7" height="1.8" rx="0.5"/>
<rect x="333.92" y="586.68" width="5.7" height="1.8" rx="0.5"/>
<rect x="375.94" y="586.68" width="5.7" height="1.8" rx="0.5"/>
<rect x="417.90" y="586.68" width="5.7" height="1.8" rx="0.5"/>
<rect x="461.06" y="586.68" width="5.7" height="1.8" rx="0.5"/>
<rect x="504.20" y="586.68" width="5.7" height="1.8" rx="0.5"/>
<rect x="546.16" y="586.68" width="5.7" height="1.8" rx="0.5"/>
<rect x="588.44" y="586.68" width="5.7" height="1.8" rx="0.5"/>
<rect x="632.27" y="586.68" width="5.7" height="1.8" rx="0.5"/>
<rect x="248.07" y="601.10" width="5.7" height="1.8" rx="0.5"/>
<rect x="290.60" y="601.10" width="5.7" height="1.8" rx="0.5"/>
<rect x="333.83" y="601.10" width="5.7" height="1.8" rx="0.5"/>
<rect x="375.84" y="601.10" width="5.7" height="1.8" rx="0.5"/>
<rect x="417.83" y="601.10" width="5.7" height="1.8" rx="0.5"/>
<rect x="460.97" y="601.10" width="5.7" height="1.8" rx="0.5"/>
<rect x="504.09" y="601.10" width="5.7" height="1.8" rx="0.5"/>
<rect x="546.05" y="601.10" width="5.7" height="1.8" rx="0.5"/>
<rect x="588.33" y="601.10" width="5.7" height="1.8" rx="0.5"/>
<rect x="632.16" y="601.10" width="5.7" height="1.8" rx="0.5"/>
<rect x="247.96" y="615.52" width="5.7" height="1.8" rx="0.5"/>
<rect x="460.88" y="615.52" width="5.7" height="1.8" rx="0.5"/>
<rect x="247.85" y="629.94" width="5.7" height="1.8" rx="0.5"/>
<rect x="460.79" y="629.94" width="5.7" height="1.8" rx="0.5"/>
<rect x="247.75" y="644.36" width="5.7" height="1.8" rx="0.5"/>
<rect x="460.70" y="644.36" width="5.7" height="1.8" rx="0.5"/>
<rect x="247.26" y="714.60" width="5.7" height="1.8" rx="0.5"/>
<rect x="333.17" y="714.60" width="5.7" height="1.8" rx="0.5"/>
<rect x="417.41" y="714.60" width="5.7" height="1.8" rx="0.5"/>
<rect x="246.90" y="772.50" width="5.7" height="1.8" rx="0.5"/>
<rect x="332.89" y="772.50" width="5.7" height="1.8" rx="0.5"/>
<rect x="417.28" y="772.50" width="5.7" height="1.8" rx="0.5"/>
<rect x="246.26" y="858.79" width="5.7" height="1.8" rx="0.5"/>
<rect x="332.36" y="858.79" width="5.7" height="1.8" rx="0.5"/>
<rect x="416.90" y="858.79" width="5.7" height="1.8" rx="0.5"/>
<rect x="246.13" y="873.32" width="5.7" height="1.8" rx="0.5"/>
<rect x="332.24" y="873.32" width="5.7" height="1.8" rx="0.5"/>
<rect x="416.80" y="873.32" width="5.7" height="1.8" rx="0.5"/>
<rect x="246.00" y="887.85" width="5.7" height="1.8" rx="0.5"/>
<rect x="332.13" y="887.85" width="5.7" height="1.8" rx="0.5"/>
<rect x="416.70" y="887.85" width="5.7" height="1.8" rx="0.5"/>
<polyline fill="none" stroke="#000" stroke-width="1.55" stroke-linecap="round" stroke-linejoin="round"
 points="46,86.9 50,89.8 60,99.8 100,138.7 238.5,274.8 253.7,290 324.9,358.6 402.3,434.6 493,523.7 571.8,600 628.6,653.9"/>
<polyline fill="none" stroke="#000" stroke-width="1.55" stroke-linecap="round" stroke-linejoin="round"
 points="650.5,95 631.5,110 583.7,147.4 493,219.1 409.8,290 324.9,358.6 250,419.8 103.6,540 1.2,623.6"/>
</svg>
</body></html>
